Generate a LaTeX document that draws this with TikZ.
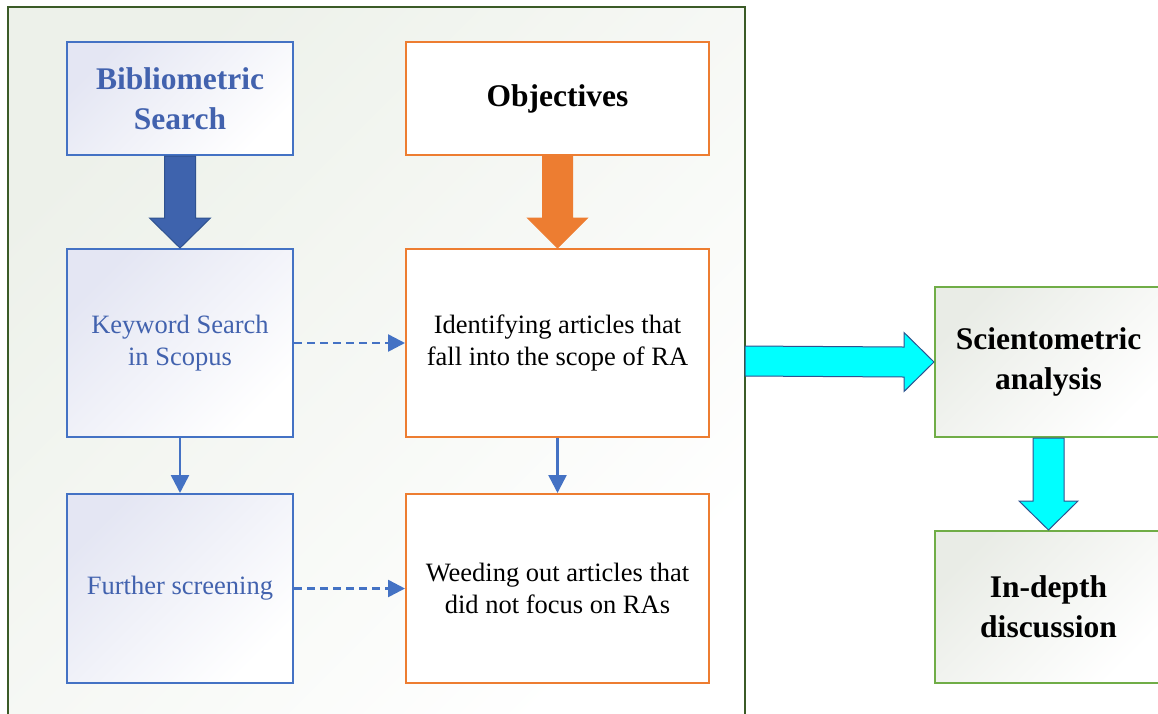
\documentclass[tikz,border=0pt]{standalone}
\usepackage{fontspec}
\setmainfont{Liberation Serif}
\usetikzlibrary{arrows.meta,calc}
\definecolor{frameg}{HTML}{3B5B27}
\definecolor{frameFill}{HTML}{EDF1EA}
\definecolor{bblue}{HTML}{4472C4}
\definecolor{tblue}{HTML}{4262AE}
\definecolor{lav}{HTML}{E4E6F3}
\definecolor{orng}{HTML}{ED7D31}
\definecolor{gbord}{HTML}{70AD47}
\definecolor{gfill}{HTML}{E9ECE6}
\definecolor{darrow}{HTML}{3E63AD}
\definecolor{darrowb}{HTML}{2F528F}
\definecolor{aqua}{HTML}{00FFFF}
\tikzset{
  bluebox/.style={draw=bblue, line width=2pt, left color=lav, right color=white, shading angle=45, text=tblue, align=center, anchor=north west, inner sep=0pt},
  orangebox/.style={draw=orng, line width=2pt, fill=white, align=center, anchor=north west, inner sep=0pt},
  greenbox/.style={draw=gbord, line width=2pt, left color=gfill, right color=white, shading angle=45, align=center, anchor=north west, inner sep=0pt},
  boldtxt/.style={font=\fontsize{31.5}{40}\selectfont\bfseries},
  regtxt/.style={font=\fontsize{26.5}{32}\selectfont},
  thinarrow/.style={draw=bblue, line width=2.5pt, -{Triangle[length=18pt,width=18pt]}},
  dasharrow/.style={draw=bblue, line width=2.5pt, dash pattern=on 8pt off 5pt, -{Triangle[length=17pt,width=17pt]}},
}
\begin{document}
\begin{tikzpicture}[x=1pt,y=-1pt]
\useasboundingbox (0,0) rectangle (1158,713);
\clip (0,0) rectangle (1158,713);
% outer frame
\path[left color=frameFill, right color=white, shading angle=45] (8,7) rectangle (745,730);
\draw[frameg, line width=2pt] (8,730) -- (8,7) -- (745,7) -- (745,730);
% boxes
\node[bluebox, boldtxt, minimum width=226pt, minimum height=113pt] (bib) at (66,41) {Bibliometric\\Search};
\node[bluebox, regtxt, minimum width=226pt, minimum height=188pt] (kw) at (66,248) {Keyword Search\\in Scopus};
\node[bluebox, regtxt, minimum width=226pt, minimum height=189pt] (fs) at (66,493) {Further screening};
\node[orangebox, boldtxt, minimum width=303pt, minimum height=113pt] (obj) at (405,41) {Objectives};
\node[orangebox, regtxt, minimum width=303pt, minimum height=188pt] (idf) at (405,248) {Identifying articles that\\fall into the scope of RA};
\node[orangebox, regtxt, minimum width=303pt, minimum height=189pt] (wd) at (405,493) {Weeding out articles that\\did not focus on RAs};
\node[greenbox, boldtxt, minimum width=227pt, minimum height=150pt] (sci) at (934,286) {Scientometric\\analysis};
\node[greenbox, boldtxt, minimum width=227pt, minimum height=152pt] (ind) at (934,530) {In-depth\\discussion};
% thick arrows
\filldraw[fill=darrow, draw=darrowb, line width=1pt]
  ($(bib.south)+(-15.5,0)$) -- ($(bib.south)+(15.5,0)$) -- ($(kw.north)+(15.5,-30)$) -- ($(kw.north)+(30.5,-30)$)
  -- (kw.north) -- ($(kw.north)+(-30.5,-30)$) -- ($(kw.north)+(-15.5,-30)$) -- cycle;
\filldraw[fill=orng, draw=orng, line width=1pt]
  ($(obj.south)+(-15,0)$) -- ($(obj.south)+(15,0)$) -- ($(idf.north)+(15,-30)$) -- ($(idf.north)+(30,-30)$)
  -- (idf.north) -- ($(idf.north)+(-30,-30)$) -- ($(idf.north)+(-15,-30)$) -- cycle;
\coordinate (fr) at (745,361);
\filldraw[fill=aqua, draw=darrowb, line width=1pt]
  ($(fr)+(0,-15)$) -- ($(sci.west)+(-30,-15)$) -- ($(sci.west)+(-30,-29.5)$) -- (sci.west)
  -- ($(sci.west)+(-30,29.5)$) -- ($(sci.west)+(-30,15)$) -- ($(fr)+(0,15)$) -- cycle;
\filldraw[fill=aqua, draw=darrowb, line width=1pt]
  ($(sci.south)+(-15.5,0)$) -- ($(sci.south)+(15.5,0)$) -- ($(ind.north)+(15.5,-29)$) -- ($(ind.north)+(29.5,-29)$)
  -- (ind.north) -- ($(ind.north)+(-29.5,-29)$) -- ($(ind.north)+(-15.5,-29)$) -- cycle;
% thin arrows
\draw[thinarrow] (kw.south) -- (fs.north);
\draw[thinarrow] (idf.south) -- (wd.north);
\draw[dasharrow] (kw.east) -- (idf.west);
\draw[dasharrow] (fs.east) -- (wd.west);
\end{tikzpicture}
\end{document}
